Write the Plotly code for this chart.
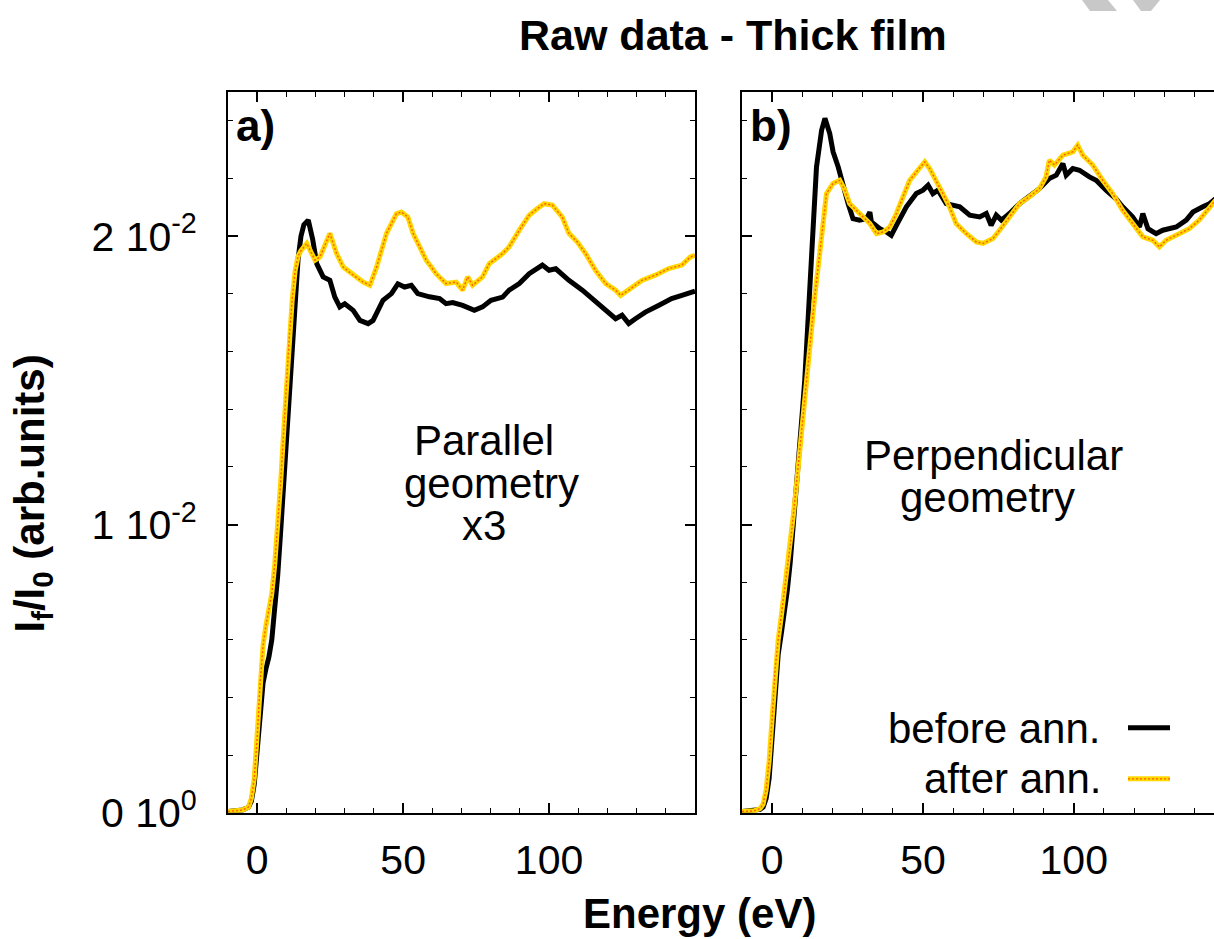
import plotly.graph_objects as go

# ---------------- data ----------------
e_a_before = [-10, -7, -5, -3, -2, -1, 0, 1, 2, 3, 4, 5, 6, 7, 8, 9, 10, 11, 12, 13, 14, 15, 16, 17.5, 19,
              20.4, 22.6, 24.9, 26.6, 28.3, 30, 32.9, 35.2, 38, 39.7, 43.1, 46, 48.2, 50.5, 52.8, 55, 59,
              62.5, 64.7, 67, 70.4, 74.4, 77.2, 80.1, 84.1, 86.3, 89.8, 93.2, 97.7, 100, 102.3, 106.8,
              111.4, 115.9, 119.4, 122.8, 125, 127.3, 129.6, 133, 137.5, 142, 145.5, 150]
i_a_before = [0.00005, 0.00006, 0.0001, 0.0002, 0.0004, 0.0010, 0.0022, 0.0036, 0.0045, 0.0050, 0.0054,
              0.0060, 0.0070, 0.0082, 0.0097, 0.0113, 0.0130, 0.0148, 0.0165, 0.0180, 0.0192, 0.0200,
              0.0204, 0.02056, 0.0199, 0.01905, 0.01859, 0.01847, 0.01789, 0.01755, 0.01766, 0.01743,
              0.01708, 0.01697, 0.01708, 0.01778, 0.01801, 0.01835, 0.01824, 0.0183, 0.01801, 0.0179,
              0.01784, 0.01766, 0.01770, 0.0176, 0.01743, 0.01755, 0.01778, 0.01789, 0.01813, 0.01836,
              0.0187, 0.019, 0.01882, 0.01887, 0.01847, 0.01813, 0.01772, 0.01743, 0.01714, 0.01726,
              0.01697, 0.01714, 0.01737, 0.0176, 0.01784, 0.01795, 0.01810]

e_a_after = [-10, -7, -5, -3, -2, -1, 0, 1, 2, 3, 4, 5, 6, 7, 8, 9, 10, 11, 12, 13, 14, 15, 17, 19.8, 21.5,
             24.9, 27.2, 29.5, 32.9, 36.3, 38.6, 40.9, 44.3, 47.7, 49.4, 51.6, 53.4, 55.6, 57.9, 61.3, 64.7,
             68.2, 70.4, 72.1, 73.8, 77.2, 79.5, 84.1, 86.3, 89.8, 93.2, 96, 98.3, 101.1, 104.5, 106.8,
             109.7, 112.5, 115.9, 119.4, 122.8, 124.5, 127.3, 131.8, 136.4, 141, 145.5, 148.4, 150]
i_a_after = [0.00005, 0.00007, 0.0001, 0.0002, 0.0005, 0.0012, 0.0026, 0.0045, 0.0058, 0.0065, 0.0070,
             0.0076, 0.0086, 0.0099, 0.0114, 0.0131, 0.0149, 0.0165, 0.0178, 0.0188, 0.0193, 0.0195,
             0.01975, 0.01917, 0.01928, 0.0201, 0.0194, 0.01893, 0.01865, 0.01841, 0.0183, 0.01893,
             0.0201, 0.02078, 0.02084, 0.02067, 0.0201, 0.01963, 0.01917, 0.0187, 0.01836, 0.01841,
             0.01813, 0.01859, 0.0183, 0.01859, 0.01905, 0.0194, 0.01963, 0.02021, 0.02073, 0.02096,
             0.02113, 0.02108, 0.02067, 0.0201, 0.0198, 0.0194, 0.01882, 0.01836, 0.01813, 0.01795,
             0.01813, 0.01847, 0.01865, 0.01888, 0.019, 0.01928, 0.01934]

e_b_before = [-10, -6, -4, -3, -2, -1, 0, 1, 2, 3, 4, 5, 6, 7, 8, 9, 10, 10.8, 11.9, 13.6, 14.7, 16.4, 17.5,
              19.1, 20.2, 21.9, 23.5, 25.2, 26.8, 29, 31.3, 32.4, 32.9, 35.7, 37.9, 39.5, 41.2, 44.5, 47.8,
              50, 51.7, 53.3, 55, 57.7, 62.2, 65.5, 68.8, 71, 72.6, 74.3, 76, 78.7, 82, 85.3, 88.6, 91.9,
              94.2, 96.4, 97.5, 99.7, 101.9, 105.2, 107.4, 110.7, 114, 116.2, 119.5, 121.8, 122.9, 124.6,
              127.3, 129.5, 134, 137.3, 139.5, 142.8, 145, 147]
i_b_before = [0.00005, 0.00007, 0.00012, 0.0002, 0.0005, 0.0012, 0.0028, 0.0045, 0.0055, 0.0062, 0.0069,
              0.0077, 0.0087, 0.0099, 0.0112, 0.0125, 0.0139, 0.0150, 0.01732, 0.02021, 0.0224, 0.02368,
              0.02409, 0.02356, 0.02293, 0.0224, 0.02171, 0.02113, 0.02061, 0.02056, 0.02061, 0.02084,
              0.0205, 0.02026, 0.02015, 0.02003, 0.02038, 0.02102, 0.02148, 0.0216, 0.02177, 0.02148,
              0.0216, 0.02113, 0.02102, 0.02073, 0.02067, 0.02079, 0.02038, 0.02073, 0.02056, 0.02079,
              0.02113, 0.02137, 0.02165, 0.022, 0.02212, 0.02252, 0.02212, 0.02235, 0.02229, 0.02206,
              0.02194, 0.0216, 0.0213, 0.02102, 0.02067, 0.02032, 0.02079, 0.02026, 0.02009, 0.02021,
              0.02032, 0.02056, 0.02084, 0.02102, 0.02113, 0.02130]

e_b_after = [-10, -6, -4, -3, -2, -1, 0, 1, 2, 3, 4, 5, 6, 7, 8, 9, 10, 11.4, 14.1, 16.4, 18, 20.2, 22.4,
             24.1, 25.7, 27.9, 30.1, 32.4, 34.6, 36.8, 39, 41.2, 43.4, 45.6, 48.3, 50.6, 52.2, 54.4, 56.6,
             58.8, 61, 64.4, 67.7, 69.9, 73.2, 75.4, 78.7, 82, 85.3, 88.6, 90.8, 91.9, 93.6, 96.4, 99.7,
             101.3, 103, 106.3, 109.6, 112.9, 116.2, 119.5, 122.9, 126.2, 128.4, 130.6, 134, 138.3, 141.6, 147]
i_b_after = [0.00005, 0.00007, 0.00015, 0.0003, 0.0008, 0.0018, 0.0033, 0.0050, 0.0060, 0.0068, 0.0076,
             0.0084, 0.0093, 0.0103, 0.0113, 0.0124, 0.0135, 0.0150, 0.0179, 0.01998, 0.02148, 0.02183,
             0.02194, 0.0216, 0.02113, 0.0209, 0.02067, 0.02044, 0.02009, 0.02015, 0.02032, 0.02079,
             0.02137, 0.02194, 0.02229, 0.02258, 0.02235, 0.02194, 0.02148, 0.02102, 0.02044, 0.02009,
             0.0198, 0.01975, 0.01992, 0.02021, 0.02067, 0.02113, 0.02137, 0.02165, 0.02206, 0.02264,
             0.02247, 0.02281, 0.02293, 0.02316, 0.02281, 0.02247, 0.02194, 0.02148, 0.0209, 0.02044,
             0.01998, 0.01986, 0.01963, 0.01986, 0.02003, 0.02026, 0.02056, 0.02125]

x_tickvals = [0, 50, 100]
y_tickvals = [0, 0.01, 0.02]
y_ticktext = ["0 10<sup>0</sup>", "1 10<sup>-2</sup>", "2 10<sup>-2</sup>"]

legend_labels = ["before ann.", "after ann."]
title_text = "Raw data - Thick film"

# ---------------- styling ----------------
W, H = 1214, 939          # reference picture size (positions below are read in these pixels)
FIG_H = 963               # page height used so that the captured page matches the reference
FONT = "Liberation Sans, Arial, Helvetica, sans-serif"
BLACK = "#000000"
GOLD = "#FFD800"
RED = "#FF2A00"

def px(x):
    return x / W

def py(y):
    return 1 - y / H

fig = go.Figure()

def add_curve(e, v, xa, ya, kind):
    if kind == "before":
        fig.add_trace(go.Scatter(x=e, y=v, xaxis=xa, yaxis=ya, mode="lines",
                                 line=dict(color=BLACK, width=5), showlegend=False,
                                 hoverinfo="skip"))
    else:
        fig.add_trace(go.Scatter(x=e, y=v, xaxis=xa, yaxis=ya, mode="lines",
                                 line=dict(color=GOLD, width=5), showlegend=False,
                                 hoverinfo="skip"))
        fig.add_trace(go.Scatter(x=e, y=v, xaxis=xa, yaxis=ya, mode="lines",
                                 line=dict(color=RED, width=1.4, dash="2px,2px"),
                                 opacity=0.7, showlegend=False, hoverinfo="skip"))

add_curve(e_a_before, i_a_before, "x", "y", "before")
add_curve(e_a_after, i_a_after, "x", "y", "after")
add_curve(e_b_before, i_b_before, "x2", "y2", "before")
add_curve(e_b_after, i_b_after, "x2", "y2", "after")

tickfont = dict(family=FONT, size=41, color=BLACK)

common_x = dict(
    showline=True, linecolor=BLACK, linewidth=2, mirror="allticks",
    ticks="inside", ticklen=10, tickwidth=1.5, tickcolor=BLACK,
    tickmode="array", tickvals=x_tickvals,
    minor=dict(tickmode="linear", tick0=0, dtick=10, ticks="inside", ticklen=5,
               tickwidth=1.2, tickcolor=BLACK, showgrid=False),
    showgrid=False, zeroline=False, tickfont=tickfont, ticklabelstandoff=10,
)

y_dom = [py(812), py(92)]

fig.update_layout(
    width=W, height=FIG_H,
    margin=dict(l=0, r=0, t=0, b=0),
    paper_bgcolor="white", plot_bgcolor="white",
    showlegend=False,
    xaxis=dict(common_x, domain=[px(228), px(695)], range=[-10, 150], anchor="y"),
    xaxis2=dict(common_x, domain=[px(742), px(1214)], range=[-10, 146.5], anchor="y2"),
    yaxis=dict(
        domain=y_dom, range=[0, 0.025], anchor="x",
        showline=True, linecolor=BLACK, linewidth=2, mirror="allticks",
        ticks="inside", ticklen=10, tickwidth=1.5, tickcolor=BLACK,
        tickmode="array", tickvals=y_tickvals, ticktext=y_ticktext,
        minor=dict(tickmode="linear", tick0=0, dtick=0.002, ticks="inside", ticklen=5,
                   tickwidth=1.2, tickcolor=BLACK, showgrid=False),
        showgrid=False, zeroline=False, tickfont=tickfont, ticklabelstandoff=21,
    ),
    yaxis2=dict(
        domain=y_dom, range=[0, 0.025], anchor="x2",
        showline=True, linecolor=BLACK, linewidth=2, mirror=False,
        ticks="inside", ticklen=10, tickwidth=1.5, tickcolor=BLACK,
        tickmode="array", tickvals=y_tickvals, showticklabels=False,
        minor=dict(tickmode="linear", tick0=0, dtick=0.002, ticks="inside", ticklen=5,
                   tickwidth=1.2, tickcolor=BLACK, showgrid=False),
        showgrid=False, zeroline=False,
    ),
)

ann = []
def text(x, y, s, size=42, bold=False, xanchor="center", angle=0):
    ann.append(dict(x=px(x), y=py(y), xref="paper", yref="paper", text=(f"<b>{s}</b>" if bold else s),
                    showarrow=False, xanchor=xanchor, yanchor="middle", textangle=angle,
                    font=dict(family=FONT, size=size, color=BLACK)))

text(733, 35, title_text, size=43, bold=True)
text(699, 913, "Energy (eV)", size=42, bold=True)
text(33, 493, "I<sub>f</sub>/I<sub>0</sub> (arb.units)", size=42, bold=True, angle=-90)
text(255, 125, "a)", size=44, bold=True)
text(771, 125, "b)", size=44, bold=True)
text(484, 440, "Parallel")
text(491, 483, "geometry")
text(484, 525, "x3")
text(993, 455, "Perpendicular")
text(987, 497, "geometry")
text(1103, 728, legend_labels[0], xanchor="right")
text(1103, 778, legend_labels[1], xanchor="right")
fig.update_layout(annotations=ann)

shapes = [
    dict(type="line", xref="paper", yref="paper", x0=px(1128), x1=px(1170), y0=py(727), y1=py(727),
         line=dict(color=BLACK, width=5)),
    dict(type="line", xref="paper", yref="paper", x0=px(1128), x1=px(1170), y0=py(778), y1=py(778),
         line=dict(color=GOLD, width=5)),
    dict(type="line", xref="paper", yref="paper", x0=px(1128), x1=px(1170), y0=py(778), y1=py(778),
         line=dict(color=RED, width=1.4, dash="2px,2px"), opacity=0.7),
    # light grey watermark fragments at the top-right corner
    dict(type="path", xref="paper", yref="paper", fillcolor="#C8C8C8", line=dict(width=0),
         path=f"M {px(1082)} {py(0)} L {px(1108)} {py(0)} L {px(1117)} {py(11)} L {px(1090)} {py(11)} Z"),
    dict(type="path", xref="paper", yref="paper", fillcolor="#C8C8C8", line=dict(width=0),
         path=f"M {px(1133)} {py(0)} L {px(1160)} {py(0)} L {px(1151)} {py(11)} L {px(1141)} {py(11)} Z"),
]
fig.update_layout(shapes=shapes)

fig.write_html(
    "out.html",
    config={"displayModeBar": False},
    post_script="document.body.style.margin='0';document.body.style.overflow='hidden';",
)
